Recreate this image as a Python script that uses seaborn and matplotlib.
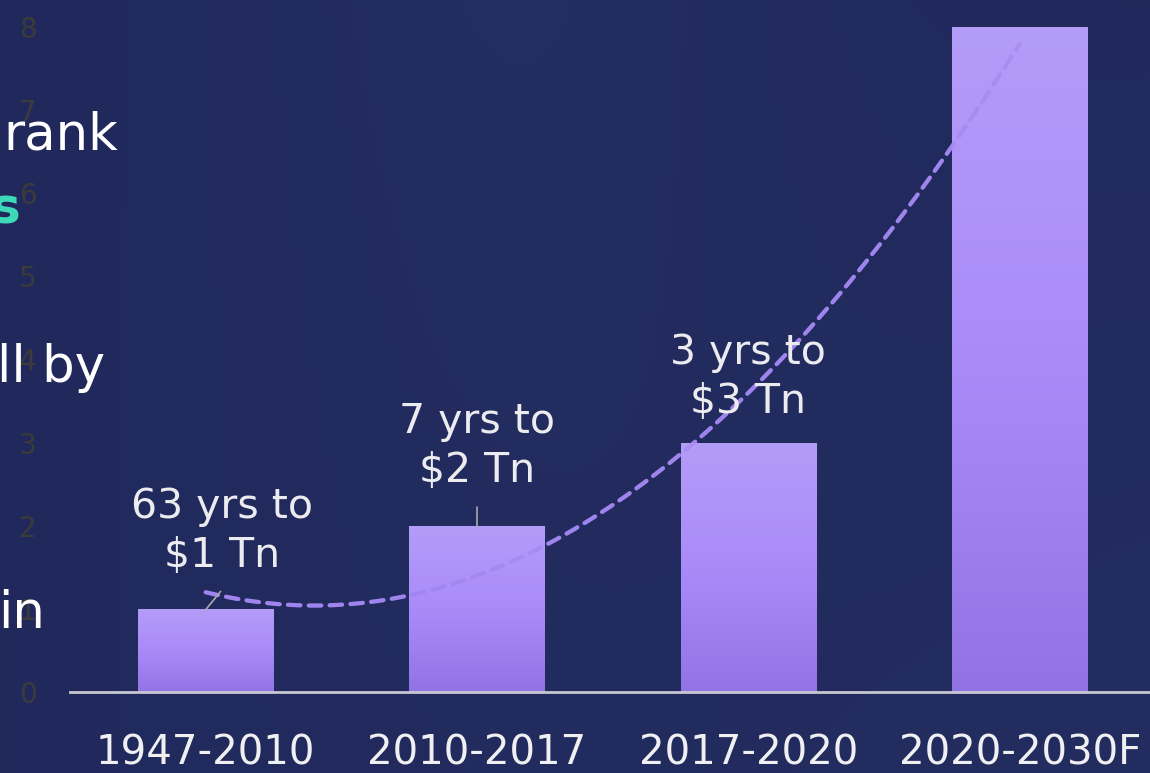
import numpy as np
import pandas as pd
import matplotlib
matplotlib.use("Agg")
import matplotlib.pyplot as plt
from matplotlib.colors import LinearSegmentedColormap
import seaborn as sns

# ---- data ----
periods = ["1947-2010", "2010-2017", "2017-2020", "2020-2030F"]
gdp_tn = [1, 2, 3, 8]
labels = ["63 yrs to\n$1 Tn", "7 yrs to\n$2 Tn", "3 yrs to\n$3 Tn", ""]
yticks = [0, 1, 2, 3, 4, 5, 6, 7, 8]

sns.set_theme(style="white")
plt.rcParams['font.family'] = ['DejaVu Sans']

BG = "#242c5c"
fig = plt.figure(figsize=(11.5, 7.73), dpi=100, facecolor=BG)

# background gradient
bg = fig.add_axes([0, 0, 1, 1], zorder=-10)
bg.axis("off")
yy, xx = np.mgrid[0:1:200j, 0:1:300j]
val = 0.5 + 0.35 * np.exp(-((xx - 0.45) ** 2) / 0.05) * (1 - yy) * 0.6 + 0.2 * xx * yy
bg_cmap = LinearSegmentedColormap.from_list("bg", ["#20285a", "#283266"])
bg.imshow(val, cmap=bg_cmap, aspect="auto", extent=[0, 1, 0, 1], vmin=0.4, vmax=1.0)
bg.set_xlim(0, 1); bg.set_ylim(0, 1)

ax = fig.add_axes([70 / 1150, 81 / 773, 1 - 70 / 1150, (692 - 27) / 773])
ax.set_facecolor("none")

df = pd.DataFrame({"period": periods, "value": gdp_tn})
sns.barplot(data=df, x="period", y="value", color="#a385f2", width=0.5,
            saturation=1, ax=ax, zorder=3, edgecolor="none", linewidth=0)

# gradient fill on bars
grad_cmap = LinearSegmentedColormap.from_list("bar", ["#9273e6", "#a98bf8", "#b49cf9"])
grad = np.linspace(0, 1, 256).reshape(-1, 1)
for p in ax.patches:
    x0, y0 = p.get_x(), p.get_y()
    w, h = p.get_width(), p.get_height()
    im = ax.imshow(grad, cmap=grad_cmap, origin="lower", aspect="auto",
                   extent=[x0, x0 + w, y0, y0 + h], zorder=4)
    im.set_clip_path(p)

# trendline (2nd order polynomial fit of the bar values)
xi = np.arange(len(gdp_tn))
coef = np.polyfit(xi, gdp_tn, 2)
xs = np.linspace(0, len(gdp_tn) - 1, 200)
ys = np.polyval(coef, xs)
ax.plot(xs, ys, color="#a68cf5", lw=3.0, dashes=(3.0, 2.0), zorder=2,
        dash_capstyle="round")
# faint trace of the trendline over the bars
ax.plot(xs, ys, color="#8f74e0", lw=3.0, dashes=(3.0, 2.0), zorder=4.5,
        dash_capstyle="round", alpha=0.3)

# annotations
text_pos = [(0.06, 1.93), (1.0, 2.95), (2.0, 3.78)]
leaders = [((0.0, 0.99), (0.055, 1.21)), ((1.0, 1.99), (1.0, 2.22)), None]
for i, lab in enumerate(labels):
    if not lab:
        continue
    tx, ty = text_pos[i]
    ax.text(tx, ty, lab, ha="center", va="center", fontsize=29.5,
            color="#ececf0", linespacing=1.28, zorder=6)
    if leaders[i] is not None:
        (a, b), (c, d) = leaders[i]
        ax.plot([a, c], [b, d], color="#a9a9b0", lw=1.2, zorder=5)

ax.set_xlim(-0.5, 3.48)
ax.set_ylim(0, 8)
ax.set_yticks(yticks)
ax.set_yticklabels([str(t) for t in yticks], fontsize=20, color="#3b3b3a")
ax.tick_params(axis="y", length=0, pad=24)
ax.tick_params(axis="x", length=0, pad=30, labelsize=29, labelcolor="#f0f0f2")
ax.set_xlabel("")
ax.set_ylabel("")
for s in ["top", "right", "left"]:
    ax.spines[s].set_visible(False)
ax.spines["bottom"].set_color("#c8c8d2")
ax.spines["bottom"].set_linewidth(2)
ax.spines["bottom"].set_zorder(7)

# cut-off slide text on the left
fig.text(118 / 1150, 1 - 150 / 773, "rank", ha="right", va="baseline",
         fontsize=37, color="#ffffff")
fig.text(20 / 1150, 1 - 223 / 773, "s", ha="right", va="baseline",
         fontsize=36, color="#3dd9b8", fontweight="bold")
fig.text(105 / 1150, 1 - 382 / 773, "ll by", ha="right", va="baseline",
         fontsize=37, color="#ffffff")
fig.text(45 / 1150, 1 - 628 / 773, "in", ha="right", va="baseline",
         fontsize=37, color="#ffffff")

fig.savefig("out.png", dpi=100, facecolor=BG)
